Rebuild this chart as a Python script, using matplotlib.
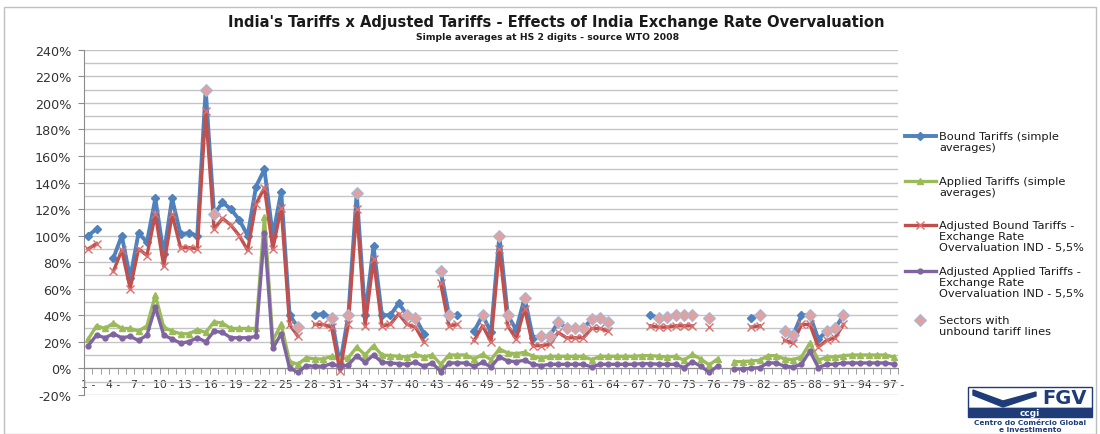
import matplotlib
matplotlib.use("Agg")
import matplotlib.pyplot as plt
from matplotlib.patches import Rectangle, Polygon
import numpy as np

# HS 2-digit chapters 1..97 (simple averages, %)
chapters = list(range(1, 98))

bound = [100, 105, None, 83, 100, 68, 102, 95, 128, 86,
         128, 101, 102, 100, 210, 116, 125, 120, 112, 100,
         137, 150, 100, 133, 40, 31, None, 40, 41, 38,
         3, 40, 132, 40, 92, 40, 40, 49, 40, 38,
         26, None, 73, 40, 40, None, 28, 40, 27, 100,
         40, 29, 53, 23, 24, 24, 35, 30, 30, 30,
         37, 38, 35, None, None, None, None, 40, 38, 39,
         40, 40, 40, None, 38, None, None, None, None, 38,
         40, None, None, 28, 25, 40, 40, 22, 28, 30,
         40, None, None, None, None, None, None]

applied = [22, 32, 30, 34, 30, 30, 28, 32, 55, 31,
           28, 26, 26, 29, 27, 35, 34, 30, 30, 30,
           30, 114, 21, 33, 5, 3, 8, 7, 7, 9,
           7, 8, 16, 10, 17, 10, 9.5, 9, 8.5, 10.5,
           8.5, 10, 3, 10, 10, 10, 7, 10.5, 6.5, 14.5,
           11.5, 11, 12, 9, 7.5, 9, 9, 9, 9, 9,
           6.5, 9, 9, 9, 9, 9, 9.5, 9.5, 9, 8.5,
           9, 6, 10.5, 7, 2.5, 7, None, 5, 5, 5.5,
           6, 9.5, 9.5, 7, 6.5, 8.5, 19, 6, 8.5, 8.5,
           9.5, 10, 10, 10, 10, 10, 8.5]

adj_bound = [90, 94, None, 73, 89, 60, 90, 85, 116, 77,
             116, 91, 91, 90, 194, 105, 113, 108, 100, 89,
             124, 136, 90, 121, 33, 24, None, 33, 33, 31,
             -2, 33, 120, 32, 82, 32, 33, 41, 33, 31,
             20, None, 64, 32, 33, None, 21, 32, 20, 90,
             32, 22, 45, 17, 17, 18, 27, 23, 23, 23,
             30, 30, 28, None, None, None, None, 32, 31, 31,
             32, 32, 32, None, 31, None, None, None, None, 31,
             32, None, None, 21, 19, 33, 33, 16, 21, 23,
             33, None, None, None, None, None, None]

adj_applied = [17, 25, 23, 26, 23, 24, 21, 25, 46, 25,
               22, 19, 20, 23, 20, 28, 27, 23, 23, 23,
               24, 102, 15, 26, 0, -3, 2, 1.5, 1.5, 3.5,
               1, 2.5, 9.5, 4.5, 10, 4.5, 4, 3.5, 3, 4.5,
               1.5, 4, -2.5, 4, 4, 4, 1.5, 4.5, 1, 8.5,
               5.5, 5, 6, 3, 2, 3, 3, 3, 3, 3,
               1, 3, 3, 3, 3, 3, 3.5, 3.5, 3, 3,
               3, 0.5, 5, 1.5, -3, 1.5, None, -0.5, -0.5, 0,
               0.5, 4, 4, 1.5, 1, 3, 13, 0.5, 3, 3,
               4, 4, 4, 4, 4, 4, 3]

unbound_chapters = [15, 16, 26, 30, 32, 33, 39, 40, 43, 44, 48, 50, 51, 53,
                    55, 56, 57, 58, 59, 60, 61, 62, 63, 69, 70, 71, 72, 73,
                    75, 81, 84, 85, 87, 89, 90, 91]
unbound_values = [210, 116, 31, 38, 40, 132, 40, 38, 73, 40, 40, 100, 40, 53,
                  24, 24, 35, 30, 30, 30, 37, 38, 35, 38, 39, 40, 40, 40,
                  38, 40, 28, 25, 40, 28, 30, 40]

tick_chapters = list(range(1, 98, 3))
tick_labels = [f"{c} -" for c in tick_chapters]


def arr(values):
    return np.array([np.nan if v is None else v for v in values], dtype=float)


fig = plt.figure(figsize=(11, 4.35), dpi=100)
W, H = 1100, 435
ax = fig.add_axes([84 / W, 39.2 / H, 814 / W, 344.9 / H])

l_bound, = ax.plot(chapters, arr(bound), color="#4F81BD", lw=2.8, marker="D",
                   ms=4.5, zorder=3)
l_applied, = ax.plot(chapters, arr(applied), color="#9BBB59", lw=2.4, marker="^",
                     ms=4, zorder=3)
l_adj_bound, = ax.plot(chapters, arr(adj_bound), color="#C0504D", lw=2.4, marker="x",
                       ms=6, mew=1.0, mec="#D9706D", zorder=4)
l_adj_applied, = ax.plot(chapters, arr(adj_applied), color="#8064A2", lw=2.4, marker="o",
                         ms=3.5, zorder=4)
l_unbound, = ax.plot(unbound_chapters, unbound_values, ls="none", marker="D", ms=6,
                     mfc="#E0A2A0", mec="#A9B8DA", mew=0.8, zorder=5)

ax.set_xlim(0.5, 97.5)
ax.set_ylim(-20, 240)
ax.set_yticks(range(-20, 241, 20))
ax.set_yticklabels([f"{v}%" for v in range(-20, 241, 20)])
ax.set_yticks(range(-10, 240, 20), minor=True)
ax.grid(axis="y", which="both", color="#C4C4C4", lw=1.0)
ax.set_axisbelow(True)

ax.set_xticks(tick_chapters)
ax.set_xticklabels(tick_labels)
ax.set_xticks(np.arange(0.5, 98, 1), minor=True)

for s in ["top", "right"]:
    ax.spines[s].set_visible(False)
ax.spines["bottom"].set_position(("data", 0))
ax.spines["bottom"].set_color("#8C8C8C")
ax.spines["left"].set_color("#8C8C8C")

ax.tick_params(axis="y", which="major", length=4, color="#8C8C8C", labelsize=9.2,
               labelcolor="#333333", pad=5)
ax.tick_params(axis="y", which="minor", length=0)
ax.tick_params(axis="x", which="major", length=0, labelsize=7.8,
               labelcolor="#333333", pad=8)
ax.tick_params(axis="x", which="minor", length=4, color="#8C8C8C")

fig.text(556 / W, 1 - 22 / H, "India's Tariffs x Adjusted Tariffs - Effects of India Exchange Rate Overvaluation",
         ha="center", va="center", fontsize=10.6, fontweight="bold", color="#1A1A1A")
fig.text(548 / W, 1 - 37 / H, "Simple averages at HS 2 digits - source WTO 2008",
         ha="center", va="center", fontsize=6.7, fontweight="bold", color="#1A1A1A")

# legend: one block per series so the vertical spacing follows the original
entries = [
    (l_bound, "Bound Tariffs (simple\naverages)", 132),
    (l_applied, "Applied Tariffs (simple\naverages)", 177),
    (l_adj_bound, "Adjusted Bound Tariffs -\nExchange Rate\nOvervaluation IND - 5,5%", 221),
    (l_adj_applied, "Adjusted Applied Tariffs -\nExchange Rate\nOvervaluation IND - 5,5%", 267),
    (l_unbound, "Sectors with\nunbound tariff lines", 316),
]
for handle, label, top in entries:
    leg = fig.legend([handle], [label], loc="upper left",
                     bbox_to_anchor=(905 / W, 1 - top / H), frameon=False,
                     fontsize=8.2, handlelength=2.7, handleheight=1.45,
                     handletextpad=0.3, borderpad=0, borderaxespad=0,
                     labelcolor="#1A1A1A")
    for t in leg.get_texts():
        t.set_linespacing(1.1)
    # keep the handle level with the first line of the label
    for col in leg._legend_handle_box.get_children():
        for row in col.get_children():
            row.align = "top"

# chart frame
fig.patches.append(Rectangle((4 / W, 0), 1092 / W, 1 - 8 / H, transform=fig.transFigure,
                             fill=False, ec="#BFBFBF", lw=1))

# FGV / ccgi logo
navy = "#203C78"
fig.patches.append(Rectangle((968 / W, 1 - 409 / H), 124 / W, 21 / H, transform=fig.transFigure,
                             fc="white", ec=navy, lw=1))
fig.patches.append(Rectangle((968 / W, 1 - 418 / H), 124 / W, 9 / H, transform=fig.transFigure,
                             fc=navy, ec=navy, lw=1))
chevron = [(973, 391), (1003, 402), (1036, 393), (1036, 397), (1003, 408), (973, 396)]
fig.patches.append(Polygon([(x / W, 1 - y / H) for x, y in chevron], closed=True,
                           transform=fig.transFigure, fc=navy, ec=navy))
fig.text(1064 / W, 1 - 399 / H, "FGV", ha="center", va="center", fontsize=14,
         fontweight="bold", color=navy)
fig.text(1030 / W, 1 - 413.5 / H, "ccgi", ha="center", va="center", fontsize=6.5,
         fontweight="bold", color="white")
fig.text(1030 / W, 1 - 423 / H, "Centro do Comércio Global", ha="center", va="center",
         fontsize=5.3, fontweight="bold", color=navy)
fig.text(1030 / W, 1 - 430 / H, "e Investimento", ha="center", va="center",
         fontsize=5.3, fontweight="bold", color=navy)

fig.savefig("out.png", dpi=100)
